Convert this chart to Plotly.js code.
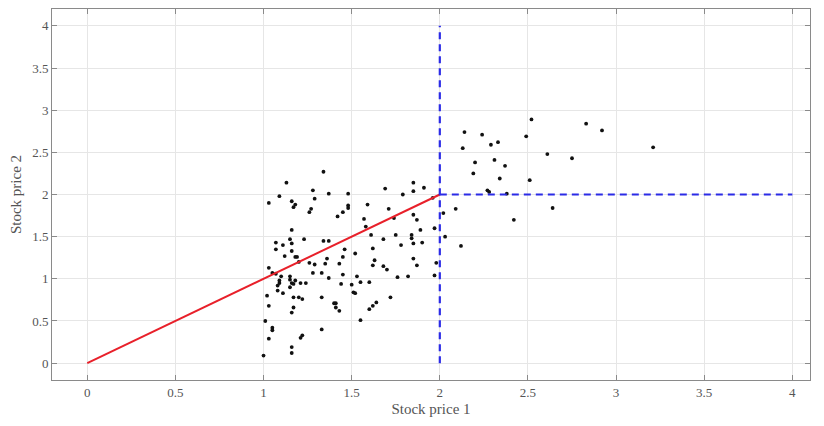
<!DOCTYPE html>
<html>
<head>
<meta charset="utf-8">
<script src="https://cdn.plot.ly/plotly-3.0.1.min.js"></script>
<style>html,body{margin:0;padding:0;background:#fff;}#chart{width:824px;height:426px;}</style>
</head>
<body>
<div id="chart"></div>
<script>
// Scatter sample: stock price 1 (x) and stock price 2 (y)
const price1 = [
  1.13,1.09,1.03,1.16,1.18,1.17,1.28,1.29,1.27,1.26,1.16,1.07,1.15,1.16,1.23,1.11,1.07,1.16,1.12,1.18,1.19,
  1.03,1.05,1.07,1.10,1.15,1.09,1.15,1.18,1.09,1.16,1.08,1.17,1.21,1.24,1.15,1.08,1.11,1.20,1.26,1.29,1.28,
  1.02,1.17,1.20,1.22,1.03,1.17,1.16,1.01,1.05,1.05,1.22,1.21,1.03,1.16,1.16,1.00,
  1.34,1.37,1.48,1.69,1.59,1.48,1.48,1.45,1.42,1.57,1.58,1.61,1.68,1.34,1.37,1.46,1.62,1.52,1.45,1.36,1.63,1.43,1.35,
  1.62,1.68,1.33,1.45,1.53,1.37,1.44,1.50,1.55,1.60,1.51,1.52,1.33,1.40,1.41,1.41,1.43,1.64,1.62,1.60,1.55,1.33,
  1.85,1.79,1.85,1.91,1.96,1.71,2.02,2.09,1.85,1.87,1.74,1.89,1.97,1.84,1.84,1.75,2.03,1.78,1.85,1.90,1.85,1.87,1.98,1.70,1.76,1.82,1.97,1.72,2.12,
  2.52,2.83,2.92,2.14,2.24,2.33,2.29,2.49,2.13,3.21,2.61,2.75,2.31,2.20,2.37,2.19,2.34,2.51,2.27,2.28,2.38,2.64,2.42
];
const price2 = [
  2.14,1.98,1.90,1.92,1.88,1.85,2.05,1.95,1.83,1.79,1.58,1.43,1.47,1.42,1.47,1.40,1.35,1.33,1.27,1.26,1.26,
  1.13,1.07,1.06,1.03,1.03,0.98,0.99,0.98,0.95,0.95,0.92,0.94,0.95,0.95,0.90,0.86,0.83,1.20,1.19,1.17,1.07,
  0.80,0.78,0.78,0.76,0.68,0.66,0.60,0.50,0.42,0.39,0.33,0.30,0.29,0.19,0.12,0.09,
  2.27,2.01,2.01,2.07,1.88,1.87,1.84,1.79,1.74,1.71,1.62,1.52,1.47,1.45,1.45,1.35,1.36,1.30,1.26,1.24,1.22,1.18,1.18,
  1.16,1.15,1.07,1.05,1.03,1.01,0.94,0.93,0.96,0.96,0.84,0.83,0.78,0.71,0.71,0.66,0.62,0.72,0.68,0.64,0.51,0.40,
  2.14,2.00,2.04,2.08,1.96,1.83,1.78,1.83,1.76,1.70,1.72,1.58,1.60,1.52,1.48,1.52,1.50,1.40,1.42,1.43,1.24,1.16,1.19,1.11,1.02,1.03,1.04,0.78,1.39,
  2.89,2.84,2.76,2.74,2.71,2.62,2.59,2.69,2.55,2.56,2.48,2.43,2.41,2.38,2.34,2.25,2.19,2.17,2.05,2.03,2.01,1.84,1.70
];
// Reference lines
const redX = [0, 2];
const redY = [0, 2];
const vertX = [2, 2];
const vertY = [0, 4];
const horizX = [2, 4];
const horizY = [2, 2];
const tickVals = [0, 0.5, 1, 1.5, 2, 2.5, 3, 3.5, 4];
const tickText = ['0', '0.5', '1', '1.5', '2', '2.5', '3', '3.5', '4'];

const fontFam = '"Liberation Serif", "DejaVu Serif", serif';

const traces = [
  {x: price1, y: price2, type: 'scatter', mode: 'markers',
   marker: {color: '#111', size: 3.8}, hoverinfo: 'x+y'},
  {x: redX, y: redY, type: 'scatter', mode: 'lines',
   line: {color: '#e8202a', width: 2}},
  {x: vertX, y: vertY, type: 'scatter', mode: 'lines',
   line: {color: '#2b2be6', width: 2.2, dash: '7px,5px'}},
  {x: horizX, y: horizY, type: 'scatter', mode: 'lines',
   line: {color: '#2b2be6', width: 2.2, dash: '7px,5px'}}
];

const axisCommon = {
  showgrid: true, gridcolor: '#e6e6e6', gridwidth: 1,
  zeroline: false, showline: true, linecolor: '#8a8a8a', linewidth: 1,
  mirror: 'ticks', ticks: 'inside', ticklen: 5, tickcolor: '#8a8a8a',
  tickvals: tickVals, ticktext: tickText,
  tickfont: {family: fontFam, size: 13, color: '#555'}
};

const layout = {
  width: 824, height: 426,
  margin: {l: 52, r: 14, t: 9, b: 46},
  paper_bgcolor: '#fff', plot_bgcolor: '#fff',
  showlegend: false,
  xaxis: Object.assign({}, axisCommon, {
    range: [-0.2, 4.1],
    title: {text: 'Stock price 1', font: {family: fontFam, size: 15, color: '#555'}, standoff: 4}
  }),
  yaxis: Object.assign({}, axisCommon, {
    range: [-0.2, 4.2],
    title: {text: 'Stock price 2', font: {family: fontFam, size: 15, color: '#555'}, standoff: 6}
  })
};

Plotly.newPlot('chart', traces, layout, {displayModeBar: false, staticPlot: true});
</script>
</body>
</html>
